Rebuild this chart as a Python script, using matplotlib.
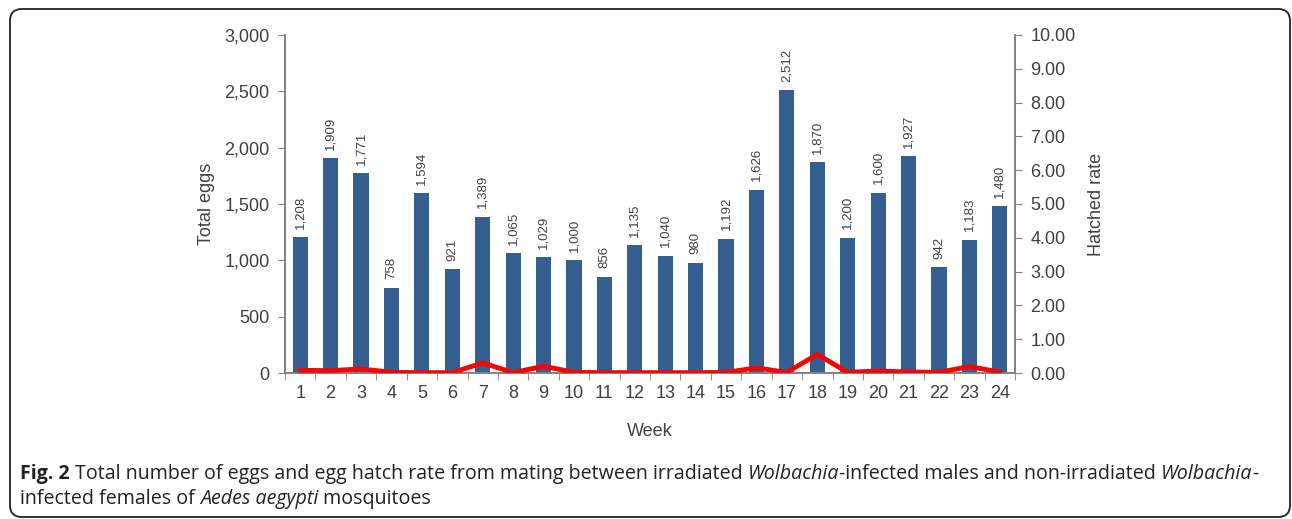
import matplotlib
matplotlib.use("Agg")
import matplotlib.pyplot as plt
from matplotlib.patches import FancyBboxPatch
from matplotlib.ticker import FuncFormatter, FixedLocator
import numpy as np

weeks = list(range(1, 25))
total_eggs = [1208, 1909, 1771, 758, 1594, 921, 1389, 1065, 1029, 1000, 856, 1135,
              1040, 980, 1192, 1626, 2512, 1870, 1200, 1600, 1927, 942, 1183, 1480]
hatch_rate = [0.08, 0.07, 0.12, 0.02, 0.01, 0.01, 0.30, 0.01, 0.20, 0.02, 0.01, 0.01,
              0.01, 0.01, 0.02, 0.15, 0.02, 0.55, 0.02, 0.06, 0.03, 0.02, 0.19, 0.03]

bar_color = '#365f91'
gray = '#808080'
txt = '#404040'

plt.rcParams['font.family'] = ['Liberation Sans', 'DejaVu Sans']

fig = plt.figure(figsize=(12.92, 5.19), dpi=100)
ax = fig.add_axes([285 / 1292, 146 / 519, 730 / 1292, 338 / 519])
ax2 = ax.twinx()

ax.bar(weeks, total_eggs, width=0.5, color=bar_color, zorder=2)
for w, v in zip(weeks, total_eggs):
    ax.annotate(f'{v:,}', (w, v), xytext=(0, 6), textcoords='offset points',
                rotation=90, ha='center', va='bottom', fontsize=9.5, color=txt)

ax2.plot(weeks, hatch_rate, color='#ff0000', lw=3.5, solid_joinstyle='miter', zorder=3)

ax.set_xlim(0.5, 24.5)
ax.set_ylim(0, 3000)
ax2.set_ylim(0, 10)
ax.set_yticks(np.arange(0, 3001, 500))
ax.yaxis.set_major_formatter(FuncFormatter(lambda v, p: f'{int(v):,}'))
ax2.set_yticks(np.arange(0, 10.01, 1))
ax2.yaxis.set_major_formatter(FuncFormatter(lambda v, p: f'{v:.2f}'))

ax.set_xticks(weeks)
ax.xaxis.set_minor_locator(FixedLocator(np.arange(0.5, 25, 1)))
ax.tick_params(axis='x', which='major', length=0, pad=9, labelsize=13, labelcolor=txt)
ax.tick_params(axis='x', which='minor', length=5, color=gray, direction='out')
ax.tick_params(axis='y', length=5, color=gray, labelsize=13, labelcolor=txt, pad=6)
ax2.tick_params(axis='y', length=5, color=gray, labelsize=13, labelcolor=txt, pad=6)

for a in (ax, ax2):
    a.spines['top'].set_visible(False)
    for s in ('left', 'right', 'bottom'):
        a.spines[s].set_color(gray)
        a.spines[s].set_linewidth(1.2)

ax.set_xlabel('Week', fontsize=13, color=txt, labelpad=15)
ax.set_ylabel('Total eggs', fontsize=13, color=txt, labelpad=7)
ax2.set_ylabel('Hatched rate', fontsize=13, color=txt, labelpad=9)

# rounded border
border = FancyBboxPatch((10 / 1292, 2 / 519), 1280 / 1292, 508 / 519,
                        boxstyle='round,pad=0,rounding_size=0.009',
                        transform=fig.transFigure, fill=False, ec='#222222', lw=1.3,
                        mutation_aspect=1292 / 519)
fig.patches.append(border)

# caption built from pieces
cap_font = ['Liberation Sans Narrow', 'Open Sans', 'DejaVu Sans']
renderer = fig.canvas.get_renderer()

line1 = [('Fig. 2', 'normal', 'bold'),
         (' Total number of eggs and egg hatch rate from mating between irradiated ', 'normal', 'normal'),
         ('Wolbachia', 'italic', 'normal'),
         ('-infected males and non-irradiated ', 'normal', 'normal'),
         ('Wolbachia', 'italic', 'normal'),
         ('-', 'normal', 'normal')]
line2 = [('infected females of ', 'normal', 'normal'),
         ('Aedes aegypti', 'italic', 'normal'),
         (' mosquitoes', 'normal', 'normal')]


def caption_line(pieces, x, y, size):
    x0 = x
    texts = []
    for s, style, weight in pieces:
        t = fig.text(x, y, s, fontsize=size, family=cap_font, style=style,
                     weight=weight, color='#222222', va='baseline', ha='left')
        bb = t.get_window_extent(renderer)
        x += bb.width / fig.bbox.width
        texts.append(t)
    return texts, (x - x0) * fig.bbox.width


# fit the first line to its width in the original
trial, w = caption_line(line1, 20 / 1292, 1 - 479 / 519, 11)
for t in trial:
    t.remove()
cap_size = 11 * 1240 / w
caption_line(line1, 20 / 1292, 1 - 479 / 519, cap_size)
caption_line(line2, 20 / 1292, 1 - 504 / 519, cap_size)

fig.savefig('out.png', dpi=100)
